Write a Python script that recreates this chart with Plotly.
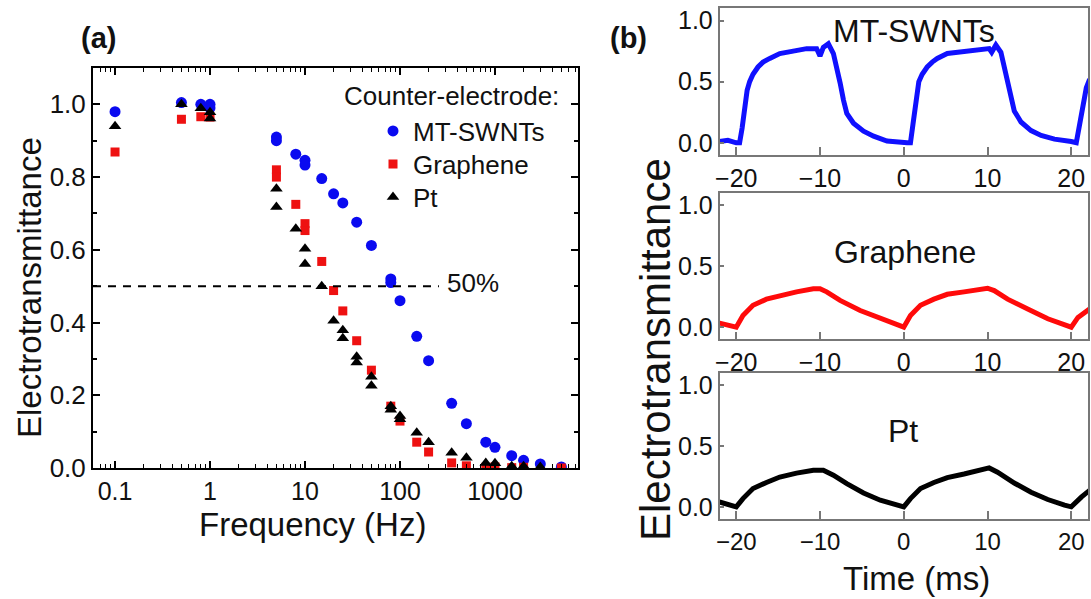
import plotly.graph_objects as go

W, H = 1091, 599

# ---------------- Panel (a) data ----------------
swnt_f = [0.1, 0.5, 0.8, 1.0, 1.0, 5, 5, 8, 10, 10, 15, 20, 25, 35, 50, 80, 80, 100, 150, 200, 350, 500, 800, 1000, 1500, 2000, 3000, 5000]
swnt_t = [0.98, 1.005, 1.0, 1.0, 0.99, 0.91, 0.90, 0.863, 0.846, 0.833, 0.796, 0.754, 0.729, 0.676, 0.612, 0.52, 0.51, 0.46, 0.362, 0.295, 0.178, 0.122, 0.071, 0.057, 0.034, 0.021, 0.011, 0.003]

gr_f = [0.1, 0.5, 0.8, 1.0, 5, 5, 8, 10, 10, 15, 20, 25, 35, 50, 80, 100, 150, 200, 350, 500, 800, 1000, 1500, 2000, 5000]
gr_t = [0.869, 0.959, 0.966, 0.965, 0.82, 0.80, 0.725, 0.672, 0.653, 0.568, 0.488, 0.432, 0.35, 0.269, 0.17, 0.129, 0.071, 0.044, 0.014, 0.006, 0.002, 0.003, 0.001, 0.002, 0.0]

pt_f = [0.1, 0.5, 0.8, 1.0, 1.0, 5, 5, 8, 10, 10, 15, 20, 25, 25, 35, 35, 50, 50, 80, 80, 100, 100, 150, 200, 350, 500, 800, 1000, 1500, 2000, 3000]
pt_t = [0.94, 1.0, 0.989, 0.978, 0.961, 0.768, 0.718, 0.658, 0.603, 0.561, 0.50, 0.405, 0.379, 0.357, 0.306, 0.29, 0.251, 0.226, 0.17, 0.16, 0.143, 0.134, 0.097, 0.071, 0.042, 0.028, 0.014, 0.013, 0.005, 0.005, 0.003]

half_f = [0.0586, 257]
half_t = [0.5, 0.5]

xticks_a = [0.1, 1, 10, 100, 1000]
xticklabels_a = ["0.1", "1", "10", "100", "1000"]
xminor_a = [0.06, 0.07, 0.08, 0.09, 0.2, 0.3, 0.4, 0.5, 0.6, 0.7, 0.8, 0.9,
            2, 3, 4, 5, 6, 7, 8, 9, 20, 30, 40, 50, 60, 70, 80, 90,
            200, 300, 400, 500, 600, 700, 800, 900, 2000, 3000, 4000, 5000, 6000, 7000]
yticks_a = [0, 0.2, 0.4, 0.6, 0.8, 1.0]
yticklabels_a = ["0.0", "0.2", "0.4", "0.6", "0.8", "1.0"]

# ---------------- Panel (b) data ----------------
swnt_time = [-22.0, -21.0, -20.0, -19.6, -19.3, -19.0, -18.7, -18.4, -18.0, -17.4, -16.8, -16.0, -14.8, -13.2, -11.6, -10.4,
             -10.0, -9.6, -9.0, -8.4, -8.0, -7.6, -7.2, -6.8, -6.0, -4.8, -3.6, -2.0, 0.4,
             0.8, 1.1, 1.4, 1.8, 2.2, 2.8, 3.4, 4.0, 5.2, 7.2, 9.2, 10.2, 10.5, 11.0, 11.6, 12.0, 12.4, 12.8, 13.2, 14.0, 15.2,
             16.4, 18.0, 20.0, 20.6, 21.0, 21.4, 21.8, 22.2]
swnt_val = [0.01, 0.02, 0.0, 0.0, 0.12, 0.30, 0.43, 0.50, 0.56, 0.62, 0.66, 0.69, 0.73, 0.75, 0.77, 0.77,
            0.71, 0.78, 0.81, 0.73, 0.62, 0.49, 0.35, 0.24, 0.16, 0.095, 0.054, 0.014, 0.0,
            0.0, 0.15, 0.33, 0.50, 0.56, 0.62, 0.66, 0.69, 0.73, 0.75, 0.76, 0.77, 0.74, 0.80, 0.74, 0.62, 0.49, 0.36, 0.26, 0.17, 0.10,
            0.06, 0.03, 0.01, 0.0, 0.15, 0.32, 0.45, 0.52]

gr_time = [-22.0, -20.0, -19.2, -18.0, -16.4, -14.8, -12.8, -10.8, -10.0, -9.2, -7.6, -5.2, -2.8, 0.0,
           0.8, 2.0, 3.6, 5.2, 7.2, 9.2, 10.0, 10.8, 12.4, 14.8, 17.2, 20.0, 20.8, 22.2]
gr_val = [0.033, 0.0, 0.096, 0.18, 0.23, 0.26, 0.29, 0.316, 0.316, 0.29, 0.22, 0.137, 0.069, 0.0,
          0.096, 0.18, 0.23, 0.27, 0.29, 0.31, 0.32, 0.30, 0.23, 0.15, 0.069, 0.0, 0.08, 0.15]

pt_time = [-22.0, -20.0, -19.2, -18.0, -16.4, -14.8, -12.8, -10.8, -9.6, -8.4, -6.8, -4.8, -2.8, -0.8, 0.0,
           0.8, 2.0, 3.6, 5.2, 7.2, 9.2, 10.2, 11.2, 13.2, 15.2, 17.2, 19.2, 20.0, 21.2, 22.2]
pt_val = [0.04, 0.0, 0.068, 0.15, 0.20, 0.245, 0.277, 0.30, 0.30, 0.26, 0.19, 0.114, 0.054, 0.014, 0.0,
          0.068, 0.15, 0.20, 0.24, 0.27, 0.30, 0.32, 0.285, 0.196, 0.12, 0.06, 0.014, 0.0, 0.08, 0.136]

FONT = "Liberation Sans, Arial, sans-serif"


def px(x):
    return x / W


def py(y):
    return 1 - y / H


fig = go.Figure()

# panel (a) - dashed 50% line drawn through the overlay (minor-tick) log axis, same range
fig.add_trace(go.Scatter(x=half_f, y=half_t, mode="lines", line=dict(color="black", width=2, dash="8px,7px"),
                         showlegend=False, hoverinfo="skip", xaxis="x5", yaxis="y"))
fig.add_trace(go.Scatter(x=swnt_f, y=swnt_t, mode="markers", name="MT-SWNTs", legend="legend",
                         marker=dict(symbol="circle", size=11, color="#0a0af0"), xaxis="x", yaxis="y"))
fig.add_trace(go.Scatter(x=gr_f, y=gr_t, mode="markers", name="Graphene", legend="legend2",
                         marker=dict(symbol="square", size=9, color="#ee1111"), xaxis="x", yaxis="y"))
fig.add_trace(go.Scatter(x=pt_f, y=pt_t, mode="markers", name="Pt", legend="legend3",
                         marker=dict(symbol="triangle-up", size=11, color="black"), xaxis="x", yaxis="y"))

# panel (b)
fig.add_trace(go.Scatter(x=swnt_time, y=swnt_val, mode="lines", line=dict(color="#1010ff", width=5),
                         showlegend=False, xaxis="x2", yaxis="y2"))
fig.add_trace(go.Scatter(x=gr_time, y=gr_val, mode="lines", line=dict(color="#ff0a0a", width=5),
                         showlegend=False, xaxis="x3", yaxis="y3"))
fig.add_trace(go.Scatter(x=pt_time, y=pt_val, mode="lines", line=dict(color="black", width=5),
                         showlegend=False, xaxis="x4", yaxis="y4"))

tickfont = dict(family=FONT, size=25, color="#111")
legfont = dict(family=FONT, size=26, color="#111")
LOGRANGE = [-1.232, 3.874]


def leg(ypix):
    return dict(x=px(373), y=py(ypix), xanchor="left", yanchor="middle", font=legfont,
                bgcolor="rgba(0,0,0,0)", itemwidth=30)


fig.update_layout(
    width=W, height=H,
    margin=dict(l=0, r=0, t=0, b=0),
    paper_bgcolor="white", plot_bgcolor="white",
    font=dict(family=FONT, color="#111"),
    showlegend=True,
    legend=leg(131), legend2=leg(164), legend3=leg(197),
    xaxis=dict(type="log", domain=[px(93), px(578)], range=LOGRANGE, anchor="y",
               tickvals=xticks_a, ticktext=xticklabels_a, ticks="inside", ticklen=7, tickwidth=1.5,
               tickcolor="black", showline=True, linecolor="black", linewidth=2, mirror="ticks",
               showgrid=False, zeroline=False, tickfont=tickfont, automargin=False),
    xaxis5=dict(type="log", overlaying="x", range=LOGRANGE, anchor="y", side="bottom",
                tickvals=xminor_a, showticklabels=False, ticks="inside", ticklen=4, tickwidth=1.2,
                tickcolor="black", showline=False, mirror="ticks", showgrid=False, zeroline=False,
                automargin=False),
    yaxis=dict(domain=[py(468), py(68)], range=[0, 1.1], anchor="x",
               tickvals=yticks_a, ticktext=yticklabels_a,
               ticks="inside", ticklen=7, tickwidth=1.5, tickcolor="black",
               showline=True, linecolor="black", linewidth=2, mirror="ticks",
               showgrid=False, zeroline=False, tickfont=dict(family=FONT, size=26, color="#111"),
               automargin=False,
               minor=dict(ticks="inside", ticklen=4, tickcolor="black", dtick=0.1, showgrid=False)),
)

panel_y = {2: (155, 8.3), 3: (339.3, 193.3), 4: (519, 373)}
for i, (yb, yt) in panel_y.items():
    fig.update_layout(**{
        f"xaxis{i}": dict(domain=[px(719.5), px(1088)], range=[-22, 22], anchor=f"y{i}",
                          tickvals=[-20, -10, 0, 10, 20], ticks="inside", ticklen=8, tickwidth=1.5,
                          tickcolor="#777", showline=True, linecolor="#777", linewidth=1.5, mirror=True,
                          showgrid=False, zeroline=False,
                          tickfont=dict(family=FONT, size=24 if i == 4 else 25, color="#111"),
                          automargin=False),
        f"yaxis{i}": dict(domain=[py(yb), py(yt)], range=[-0.1, 1.1], anchor=f"x{i}",
                          tickvals=[0, 0.5, 1.0], ticktext=["0.0", "0.5", "1.0"], ticks="inside", ticklen=5,
                          tickwidth=1.5, tickcolor="#777", showline=True, linecolor="#777", linewidth=1.5,
                          mirror=True, showgrid=False, zeroline=False, tickfont=tickfont, automargin=False),
    })


def ann(text, x, y, size, angle=0, bold=False, xanchor="center"):
    fig.add_annotation(text=f"<b>{text}</b>" if bold else text, x=px(x), y=py(y), xref="paper", yref="paper",
                       showarrow=False, textangle=angle, xanchor=xanchor, yanchor="middle",
                       font=dict(family=FONT, size=size, color="#111"))


ann("(a)", 98, 38, 29, bold=True)
ann("(b)", 628, 38, 29, bold=True)
ann("Electrotransmittance", 29, 288, 33, angle=-90)
ann("Frequency (Hz)", 312, 524, 33)
ann("Counter-electrode:", 451, 96, 26)
ann("50%", 445, 283, 26, xanchor="left")
ann("Electrotransmittance", 655, 350, 42, angle=-90)
ann("Time (ms)", 916, 578, 33)
ann("MT-SWNTs", 914, 31, 32)
ann("Graphene", 905, 252, 32)
ann("Pt", 903, 431, 32)

fig.write_html("out.html")
